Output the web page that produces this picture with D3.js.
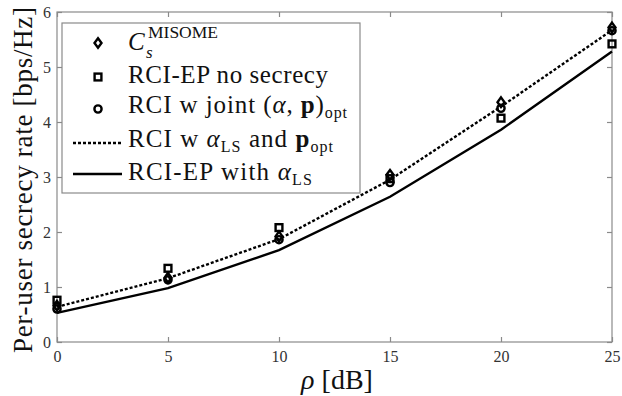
<!DOCTYPE html>
<html><head><meta charset="utf-8">
<script src="https://cdn.jsdelivr.net/npm/d3@7"></script>
<style>body{margin:0;background:#fff}svg{display:block}</style>
</head><body><svg id="c" width="622" height="396"></svg>
<script>
const rho = [0, 5, 10, 15, 20, 25];
const misome = [0.66, 1.17, 1.92, 3.04, 4.36, 5.72];
const epNoSecrecy = [0.76, 1.34, 2.08, 2.97, 4.07, 5.42];
const jointOpt = [0.60, 1.13, 1.86, 2.90, 4.25, 5.66];
const alphaLsPopt = [0.64, 1.16, 1.87, 2.95, 4.28, 5.67];
const epAlphaLs = [0.53, 0.98, 1.67, 2.64, 3.86, 5.28];
const xTicks = [0, 5, 10, 15, 20, 25];
const yTicks = [0, 1, 2, 3, 4, 5, 6];

const svg = d3.select("#c");
const L = 57, R = 612, T = 12, B = 342;
const x = d3.scaleLinear().domain([0, 25]).range([L, R]);
const y = d3.scaleLinear().domain([0, 6]).range([B, T]);
const axisColor = "#8a8a8a";
const lf = "Liberation Serif";

svg.append("rect").attr("x", L).attr("y", T).attr("width", R - L).attr("height", B - T)
  .attr("fill", "none").attr("stroke", axisColor).attr("stroke-width", 1.2);

function styleAxis(g) {
  g.select(".domain").remove();
  g.selectAll(".tick line").attr("stroke", axisColor).attr("stroke-width", 1.2);
  g.selectAll(".tick text").attr("fill", "#333").style("font-family", lf).style("font-size", "16px");
}
svg.append("g").attr("transform", `translate(0,${B})`)
  .call(d3.axisBottom(x).tickValues(xTicks).tickSize(-5).tickPadding(9).tickFormat(d3.format("d"))).call(styleAxis);
svg.append("g").attr("transform", `translate(0,${T})`)
  .call(d3.axisTop(x).tickValues(xTicks).tickSize(-5).tickFormat("")).call(styleAxis);
svg.append("g").attr("transform", `translate(${L},0)`)
  .call(d3.axisLeft(y).tickValues(yTicks).tickSize(-5).tickPadding(6).tickFormat(d3.format("d"))).call(styleAxis);
svg.append("g").attr("transform", `translate(${R},0)`)
  .call(d3.axisRight(y).tickValues(yTicks).tickSize(-5).tickFormat("")).call(styleAxis);

const line = d3.line().x((d, i) => x(rho[i])).y(d => y(d));
svg.append("path").datum(epAlphaLs).attr("d", line).attr("fill", "none")
  .attr("stroke", "#000").attr("stroke-width", 2.4);
svg.append("path").datum(alphaLsPopt).attr("d", line).attr("fill", "none")
  .attr("stroke", "#000").attr("stroke-width", 2.4).attr("stroke-dasharray", "3,2");

function drawMarker(g, type, cx, cy) {
  if (type === "circle") {
    g.append("circle").attr("cx", cx).attr("cy", cy).attr("r", 3.6)
      .attr("fill", "none").attr("stroke", "#000").attr("stroke-width", 2.4);
  } else if (type === "square") {
    g.append("rect").attr("x", cx - 3.4).attr("y", cy - 3.4).attr("width", 6.8).attr("height", 6.8)
      .attr("fill", "none").attr("stroke", "#000").attr("stroke-width", 2.4);
  } else {
    g.append("path").attr("d", `M${cx},${cy - 4.8}L${cx + 3.5},${cy}L${cx},${cy + 4.8}L${cx - 3.5},${cy}Z`)
      .attr("fill", "none").attr("stroke", "#000").attr("stroke-width", 2.4);
  }
}
const mg = svg.append("g");
[[epNoSecrecy, "square"], [misome, "diamond"], [jointOpt, "circle"]].forEach(([vals, t]) => {
  vals.forEach((v, i) => drawMarker(mg, t, x(rho[i]), y(v)));
});

// legend
const lg = svg.append("g");
lg.append("rect").attr("x", 62).attr("y", 23).attr("width", 298).attr("height", 170)
  .attr("fill", "#fff").attr("stroke", axisColor).attr("stroke-width", 1.2);
drawMarker(lg, "diamond", 98, 43);
drawMarker(lg, "square", 98, 77);
drawMarker(lg, "circle", 98, 109);
lg.append("line").attr("x1", 73).attr("x2", 122).attr("y1", 143).attr("y2", 143)
  .attr("stroke", "#000").attr("stroke-width", 2.4).attr("stroke-dasharray", "3,2");
lg.append("line").attr("x1", 73).attr("x2", 122).attr("y1", 174).attr("y2", 174)
  .attr("stroke", "#000").attr("stroke-width", 2.4);

function ltext(yb) {
  return lg.append("text").attr("x", 128).attr("y", yb).style("font-family", lf).style("font-size", "25px").attr("fill", "#111");
}
// entry 1
const t1 = ltext(50);
t1.append("tspan").style("font-style", "italic").text("C");
lg.append("text").attr("x", 146).attr("y", 58).style("font-family", lf).style("font-style", "italic")
  .style("font-size", "17px").attr("fill", "#111").text("s");
lg.append("text").attr("x", 148).attr("y", 38).style("font-family", lf)
  .style("font-size", "17.5px").attr("fill", "#111").text("MISOME");
// entry 2
ltext(83).attr("textLength", 200).attr("lengthAdjust", "spacing").text("RCI-EP no secrecy");
// entry 3
const t3 = ltext(113).attr("textLength", 219).attr("lengthAdjust", "spacing");
t3.append("tspan").text("RCI w joint (");
t3.append("tspan").style("font-style", "italic").text("α");
t3.append("tspan").text(", ");
t3.append("tspan").style("font-weight", "bold").text("p");
t3.append("tspan").text(")");
t3.append("tspan").attr("dy", 5).style("font-size", "16px").text("opt");
// entry 4
const t4 = ltext(147).attr("textLength", 205).attr("lengthAdjust", "spacing");
t4.append("tspan").text("RCI w ");
t4.append("tspan").style("font-style", "italic").text("α");
t4.append("tspan").attr("dy", 5).style("font-size", "16px").text("LS");
t4.append("tspan").attr("dy", -5).text(" and ");
t4.append("tspan").style("font-weight", "bold").text("p");
t4.append("tspan").attr("dy", 5).style("font-size", "16px").text("opt");
// entry 5
const t5 = ltext(180).attr("textLength", 184).attr("lengthAdjust", "spacing");
t5.append("tspan").text("RCI-EP with ");
t5.append("tspan").style("font-style", "italic").text("α");
t5.append("tspan").attr("dy", 5).style("font-size", "16px").text("LS");

// axis labels
svg.append("text").attr("transform", "translate(32,180) rotate(-90)").attr("text-anchor", "middle")
  .style("font-family", lf).style("font-size", "27px").attr("fill", "#111")
  .attr("textLength", 346).attr("lengthAdjust", "spacing")
  .text("Per-user secrecy rate [bps/Hz]");
const xl = svg.append("text").attr("x", 337).attr("y", 389).attr("text-anchor", "middle")
  .style("font-family", lf).style("font-size", "28px").attr("fill", "#111");
xl.append("tspan").style("font-style", "italic").text("ρ");
xl.append("tspan").text(" [dB]");
</script></body></html>
